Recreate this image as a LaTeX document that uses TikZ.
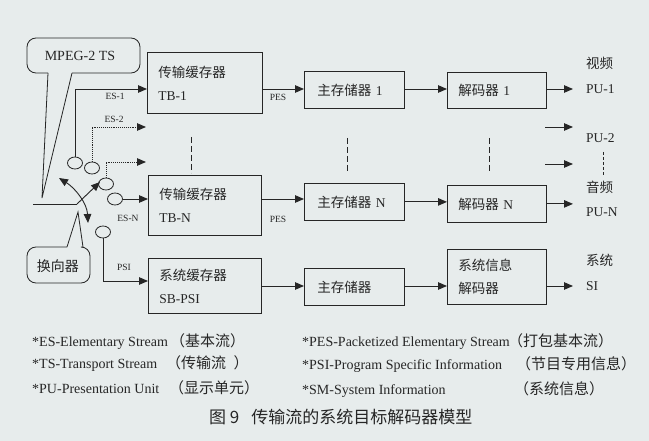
\documentclass[tikz,border=0pt]{standalone}
\usepackage{fontspec}
\setmainfont{Liberation Serif}
\newfontfamily\cjk{Noto Sans CJK SC}
\usetikzlibrary{arrows.meta,shapes.geometric}
\definecolor{bg}{RGB}{231,236,236}
\definecolor{ink}{RGB}{38,38,38}
\begin{document}
\begin{tikzpicture}[x=1pt,y=-1pt,
  >={Triangle[length=9pt,width=7.5pt]},
  box/.style={draw=ink,line width=0.8pt,inner ysep=0pt,inner xsep=11pt,
    font=\fontsize{13.5}{23}\selectfont,text=ink,align=left,anchor=north west},
  arr/.style={draw=ink,line width=0.9pt,->},
  darr/.style={arr,densely dotted},
  dsh/.style={draw=ink,line width=0.9pt,dash pattern=on 6pt off 3pt},
  lbl/.style={font=\fontsize{9.5}{10}\selectfont,text=ink,inner sep=0pt},
  side/.style={font=\fontsize{13.5}{14}\selectfont,text=ink,inner sep=0pt,anchor=west},
  leg/.style={font=\fontsize{14}{15}\selectfont,text=ink,inner sep=0pt,anchor=base west},
  legc/.style={font=\cjk\fontsize{15}{16}\selectfont,text=ink,inner sep=0pt,anchor=base west},
  contact/.style={draw=ink,line width=0.8pt,ellipse,minimum width=15pt,minimum height=12pt,inner sep=0pt},
  callout/.style={draw=ink,line width=0.8pt},
]
\fill[bg] (0,0) rectangle (649,441);
\useasboundingbox (0,0) rectangle (649,441);

% boxes
\node[box,minimum width=115pt,minimum height=61pt,text width=93pt] (tb1) at (147,52) {{\cjk 传输缓存器}\\TB-1};
\node[box,minimum width=113pt,minimum height=60pt,text width=91pt] (tbn) at (148,175) {{\cjk 传输缓存器}\\TB-N};
\node[box,minimum width=113pt,minimum height=55pt,text width=91pt] (sb) at (148,258) {{\cjk 系统缓存器}\\SB-PSI};
\node[box,inner xsep=13pt,minimum width=100pt,minimum height=37pt,text width=74pt] (ms1) at (304,71) {{\cjk 主存储器} 1};
\node[box,inner xsep=13pt,minimum width=100pt,minimum height=37pt,text width=74pt] (msn) at (304,183) {{\cjk 主存储器} N};
\node[box,inner xsep=13pt,minimum width=100pt,minimum height=37pt,text width=74pt] (ms3) at (304,268) {{\cjk 主存储器}};
\node[box,minimum width=99pt,minimum height=36pt,text width=77pt] (dec1) at (447,72) {{\cjk 解码器} 1};
\node[box,minimum width=99pt,minimum height=37pt,text width=77pt] (decn) at (447,185) {{\cjk 解码器} N};
\node[box,minimum width=99pt,minimum height=55pt,text width=77pt] (sdec) at (447,249) {{\cjk 系统信息}\\{\cjk 解码器}};

% contacts
\node[contact] (c1) at (75,163) {};
\node[contact] (c2) at (92,168) {};
\node[contact] (c3) at (106,184) {};
\node[contact] (c4) at (115,199) {};
\node[contact] (c5) at (103,232) {};

% input connectors
\coordinate (r1) at (0,89);
\draw[arr] (c1.north) |- (tb1.west |- r1);
\coordinate (e2) at (146,127);
\draw[darr] (c2.north) |- (e2);
\coordinate (e3) at (146,162);
\draw[darr] (c3.north) |- (e3);
\draw[arr] (c4.east) -- (tbn.west |- c4.east);
\coordinate (r3) at (0,281);
\draw[arr] (c5.south) |- (sb.west |- r3);

% chain connectors
\draw[arr] (tb1.east |- r1) -- (ms1.west |- r1);
\draw[arr] (ms1.east |- r1) -- (dec1.west |- r1);
\coordinate (p1) at (573,89);
\draw[arr] (dec1.east |- p1) -- (p1);
\coordinate (q2) at (545,127); \coordinate (p2) at (573,127);
\draw[arr] (q2) -- (p2);
\coordinate (q3) at (545,164); \coordinate (p3) at (573,164);
\draw[arr] (q3) -- (p3);
\draw[arr] (tbn.east |- c4.east) -- (msn.west |- c4.east);
\draw[arr] (msn.east) -- (msn.east -| decn.west);
\coordinate (pn) at (573,203);
\draw[arr] (decn.east) -- (decn.east -| pn);
\coordinate (r4) at (0,286);
\draw[arr] (sb.east |- r4) -- (ms3.west |- r4);
\draw[arr] (ms3.east |- r4) -- (sdec.west |- r4);
\coordinate (ps) at (573,286);
\draw[arr] (sdec.east |- ps) -- (ps);

% connector labels
\node[lbl] (les1) at (115,96) {ES-1};
\node[lbl] (les2) at (114,119) {ES-2};
\node[lbl] (lesn) at (128,218) {ES-N};
\node[lbl] (lpsi) at (124,267) {PSI};
\node[lbl] (lpes1) at (278,97) {PES};
\node[lbl] (lpesn) at (278,219) {PES};

% right labels
\node[side] (vid) at (586,63) {\cjk 视频};
\node[side] (pu1) at (586,89) {PU-1};
\node[side] (pu2) at (586,138) {PU-2};
\node[side] (aud) at (586,187) {\cjk 音频};
\node[side] (pun) at (586,212) {PU-N};
\node[side] (sys) at (586,260) {\cjk 系统};
\node[side] (si) at (586,286) {SI};

% ellipsis dashes
\draw[dsh] (191,137) -- (191,173);
\draw[dsh] (347,138) -- (347,173);
\draw[dsh] (489,138) -- (489,173);
\draw[ink,line width=0.8pt,dash pattern=on 3pt off 2pt] (603,152) -- (603,176);

% callouts
\draw[callout,rounded corners=9pt] (72,73) -- (140,73) -- (140,38) -- (27,38) -- (27,73) -- (48,73);
\draw[callout,line join=miter] (48,73) -- (42,198) -- (72,73);
\node[text=ink,font=\fontsize{14}{15}\selectfont] (mts) at (80,56) {MPEG-2 TS};
\draw[callout,rounded corners=9pt] (67,247) -- (27,247) -- (27,283) -- (90,283) -- (90,247) -- (83,247);
\draw[callout] (67,247) -- (78,212) -- (83,247);
\node[text=ink,font=\cjk\fontsize{14}{15}\selectfont] (hx) at (58,266) {换向器};

% switch
\coordinate (in0) at (33,204);
\coordinate (in1) at (77,204);
\coordinate (lev) at (100,182);
\draw[ink,line width=0.9pt] (in0) -- (in1);
\draw[arr] (in1) -- (lev);
\draw[ink,line width=0.9pt,<->] (59,178) .. controls (75,188) and (87,203) .. (88,223);

% legend
\node[leg] (l1) at (32,346) {*ES-Elementary Stream};
\node[legc] (l1c) at (170,346) {（基本流）};
\node[leg] (l2) at (32,369) {*TS-Transport Stream};
\node[legc] (l2c) at (166,369) {（传输流\hspace{0.5em}）};
\node[leg] (l3) at (32,393) {*PU-Presentation Unit};
\node[legc] (l3c) at (169,393) {（显示单元）};
\node[leg] (r1t) at (302,347) {*PES-Packetized Elementary Stream};
\node[legc] (r1c) at (508,347) {（打包基本流）};
\node[leg] (r2t) at (302,370) {*PSI-Program Specific Information};
\node[legc] (r2c) at (516,370) {（节目专用信息）};
\node[leg] (r3t) at (302,394) {*SM-System Information};
\node[legc] (r3c) at (514,394) {（系统信息）};

\node[anchor=base west,font=\cjk\fontsize{17}{18}\selectfont,text=ink,inner sep=0pt] (cap) at (209,423) {图 9\hspace{0.7em}传输流的系统目标解码器模型};
\end{tikzpicture}
\end{document}
